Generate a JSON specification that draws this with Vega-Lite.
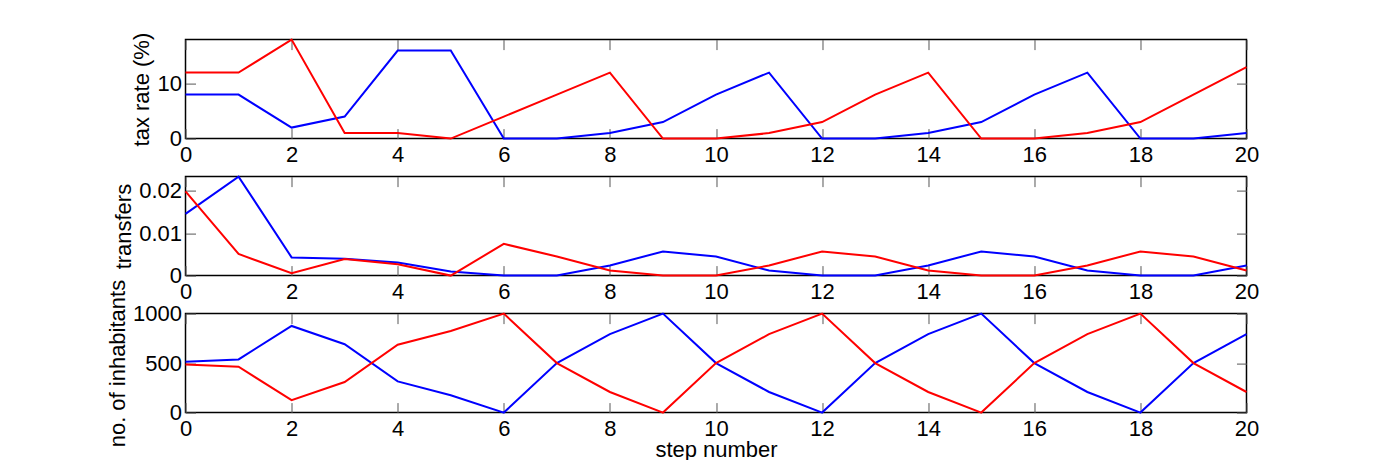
{
  "$schema": "https://vega.github.io/schema/vega-lite/v6.json",
  "background": "white",
  "padding": {"left": 104.5, "top": 30.6, "right": 5, "bottom": 5},
  "data": {"values": [
    {"step": 0, "city": "A", "tax": 8, "transfers": 0.0146, "inhabitants": 513},
    {"step": 1, "city": "A", "tax": 8, "transfers": 0.0234, "inhabitants": 537},
    {"step": 2, "city": "A", "tax": 2, "transfers": 0.0043, "inhabitants": 875},
    {"step": 3, "city": "A", "tax": 4, "transfers": 0.0040, "inhabitants": 691},
    {"step": 4, "city": "A", "tax": 16, "transfers": 0.0031, "inhabitants": 315},
    {"step": 5, "city": "A", "tax": 16, "transfers": 0.00095, "inhabitants": 175},
    {"step": 6, "city": "A", "tax": 0, "transfers": 0, "inhabitants": 0},
    {"step": 7, "city": "A", "tax": 0, "transfers": 0, "inhabitants": 500},
    {"step": 8, "city": "A", "tax": 1, "transfers": 0.0024, "inhabitants": 792},
    {"step": 9, "city": "A", "tax": 3, "transfers": 0.0057, "inhabitants": 1000},
    {"step": 10, "city": "A", "tax": 8, "transfers": 0.0045, "inhabitants": 500},
    {"step": 11, "city": "A", "tax": 12, "transfers": 0.0012, "inhabitants": 208},
    {"step": 12, "city": "A", "tax": 0, "transfers": 0, "inhabitants": 0},
    {"step": 13, "city": "A", "tax": 0, "transfers": 0, "inhabitants": 500},
    {"step": 14, "city": "A", "tax": 1, "transfers": 0.0024, "inhabitants": 792},
    {"step": 15, "city": "A", "tax": 3, "transfers": 0.0057, "inhabitants": 1000},
    {"step": 16, "city": "A", "tax": 8, "transfers": 0.0045, "inhabitants": 500},
    {"step": 17, "city": "A", "tax": 12, "transfers": 0.0012, "inhabitants": 208},
    {"step": 18, "city": "A", "tax": 0, "transfers": 0, "inhabitants": 0},
    {"step": 19, "city": "A", "tax": 0, "transfers": 0, "inhabitants": 500},
    {"step": 20, "city": "A", "tax": 1, "transfers": 0.0024, "inhabitants": 792},
    {"step": 0, "city": "B", "tax": 12, "transfers": 0.0199, "inhabitants": 487},
    {"step": 1, "city": "B", "tax": 12, "transfers": 0.0051, "inhabitants": 463},
    {"step": 2, "city": "B", "tax": 18, "transfers": 0.00055, "inhabitants": 125},
    {"step": 3, "city": "B", "tax": 1, "transfers": 0.0039, "inhabitants": 309},
    {"step": 4, "city": "B", "tax": 1, "transfers": 0.0027, "inhabitants": 685},
    {"step": 5, "city": "B", "tax": 0, "transfers": 0, "inhabitants": 825},
    {"step": 6, "city": "B", "tax": 4, "transfers": 0.0075, "inhabitants": 1000},
    {"step": 7, "city": "B", "tax": 8, "transfers": 0.0045, "inhabitants": 500},
    {"step": 8, "city": "B", "tax": 12, "transfers": 0.0012, "inhabitants": 208},
    {"step": 9, "city": "B", "tax": 0, "transfers": 0, "inhabitants": 0},
    {"step": 10, "city": "B", "tax": 0, "transfers": 0, "inhabitants": 500},
    {"step": 11, "city": "B", "tax": 1, "transfers": 0.0024, "inhabitants": 792},
    {"step": 12, "city": "B", "tax": 3, "transfers": 0.0057, "inhabitants": 1000},
    {"step": 13, "city": "B", "tax": 8, "transfers": 0.0045, "inhabitants": 500},
    {"step": 14, "city": "B", "tax": 12, "transfers": 0.0012, "inhabitants": 208},
    {"step": 15, "city": "B", "tax": 0, "transfers": 0, "inhabitants": 0},
    {"step": 16, "city": "B", "tax": 0, "transfers": 0, "inhabitants": 500},
    {"step": 17, "city": "B", "tax": 1, "transfers": 0.0024, "inhabitants": 792},
    {"step": 18, "city": "B", "tax": 3, "transfers": 0.0057, "inhabitants": 1000},
    {"step": 19, "city": "B", "tax": 8, "transfers": 0.0045, "inhabitants": 500},
    {"step": 20, "city": "B", "tax": 13, "transfers": 0.0012, "inhabitants": 208}
  ]},
  "spacing": 38,
  "bounds": "flush",
  "vconcat": [
    {
      "width": 1061, "height": 99,
      "layer": [
        {
          "mark": {"type": "line", "strokeWidth": 2},
          "encoding": {
            "x": {"field": "step", "type": "quantitative", "scale": {"domain": [0, 20], "nice": false},
                  "axis": {"values": [0, 2, 4, 6, 8, 10, 12, 14, 16, 18, 20], "title": null, "labelPadding": 16}},
            "y": {"field": "tax", "type": "quantitative", "scale": {"domain": [0, 18], "nice": false, "zero": false},
                  "axis": {"values": [0, 10], "title": "tax rate (%)"}},
            "color": {"field": "city", "type": "nominal", "scale": {"domain": ["A", "B"], "range": ["#0000ff", "#ff0000"]}, "legend": null}
          }
        },
        {
          "mark": {"type": "line", "strokeOpacity": 0},
          "encoding": {
            "x": {"field": "step", "type": "quantitative", "scale": {"domain": [0, 20], "nice": false},
                  "axis": {"orient": "top", "labels": false, "values": [0, 2, 4, 6, 8, 10, 12, 14, 16, 18, 20], "title": null}},
            "y": {"field": "tax", "type": "quantitative", "scale": {"domain": [0, 18], "nice": false, "zero": false},
                  "axis": {"orient": "right", "labels": false, "values": [0, 10], "title": null}},
            "detail": {"field": "city"}
          }
        }
      ],
      "resolve": {"axis": {"x": "independent", "y": "independent"}}
    },
    {
      "width": 1061, "height": 99,
      "layer": [
        {
          "mark": {"type": "line", "strokeWidth": 2},
          "encoding": {
            "x": {"field": "step", "type": "quantitative", "scale": {"domain": [0, 20], "nice": false},
                  "axis": {"values": [0, 2, 4, 6, 8, 10, 12, 14, 16, 18, 20], "title": null, "labelPadding": 16}},
            "y": {"field": "transfers", "type": "quantitative", "scale": {"domain": [0, 0.0234], "nice": false, "zero": false},
                  "axis": {"values": [0, 0.01, 0.02], "format": ".2~f", "title": "transfers"}},
            "color": {"field": "city", "type": "nominal", "scale": {"domain": ["A", "B"], "range": ["#0000ff", "#ff0000"]}, "legend": null}
          }
        },
        {
          "mark": {"type": "line", "strokeOpacity": 0},
          "encoding": {
            "x": {"field": "step", "type": "quantitative", "scale": {"domain": [0, 20], "nice": false},
                  "axis": {"orient": "top", "labels": false, "values": [0, 2, 4, 6, 8, 10, 12, 14, 16, 18, 20], "title": null}},
            "y": {"field": "transfers", "type": "quantitative", "scale": {"domain": [0, 0.0234], "nice": false, "zero": false},
                  "axis": {"orient": "right", "labels": false, "values": [0, 0.01, 0.02], "title": null}},
            "detail": {"field": "city"}
          }
        }
      ],
      "resolve": {"axis": {"x": "independent", "y": "independent"}}
    },
    {
      "width": 1061, "height": 99,
      "layer": [
        {
          "mark": {"type": "line", "strokeWidth": 2},
          "encoding": {
            "x": {"field": "step", "type": "quantitative", "scale": {"domain": [0, 20], "nice": false},
                  "axis": {"values": [0, 2, 4, 6, 8, 10, 12, 14, 16, 18, 20], "title": "step number", "labelPadding": 16,
                           "titleBaseline": "alphabetic", "titleY": 44}},
            "y": {"field": "inhabitants", "type": "quantitative", "scale": {"domain": [0, 1000], "nice": false, "zero": false},
                  "axis": {"values": [0, 500, 1000], "format": "d", "title": "no. of inhabitants"}},
            "color": {"field": "city", "type": "nominal", "scale": {"domain": ["A", "B"], "range": ["#0000ff", "#ff0000"]}, "legend": null}
          }
        },
        {
          "mark": {"type": "line", "strokeOpacity": 0},
          "encoding": {
            "x": {"field": "step", "type": "quantitative", "scale": {"domain": [0, 20], "nice": false},
                  "axis": {"orient": "top", "labels": false, "values": [0, 2, 4, 6, 8, 10, 12, 14, 16, 18, 20], "title": null}},
            "y": {"field": "inhabitants", "type": "quantitative", "scale": {"domain": [0, 1000], "nice": false, "zero": false},
                  "axis": {"orient": "right", "labels": false, "values": [0, 500, 1000], "title": null}},
            "detail": {"field": "city"}
          }
        }
      ],
      "resolve": {"axis": {"x": "independent", "y": "independent"}}
    }
  ],
  "config": {
    "view": {"stroke": "#000000", "strokeWidth": 1.5},
    "axis": {
      "domain": false, "grid": false,
      "ticks": true, "tickSize": -10, "tickColor": "#555555", "tickWidth": 1,
      "labelFont": "Liberation Sans", "labelFontSize": 22, "labelColor": "#000000",
      "labelPadding": 14, "labelFlush": false, "labelOverlap": false,
      "titleFont": "Liberation Sans", "titleFontSize": 22, "titleFontWeight": "normal", "titleColor": "#000000",
      "titlePadding": 3.5
    }
  }
}
